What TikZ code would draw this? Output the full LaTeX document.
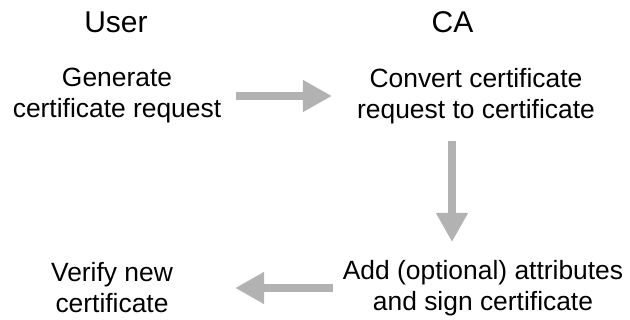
\documentclass[tikz,border=0pt]{standalone}
\usepackage{fontspec}
\setmainfont{Liberation Sans}
\usetikzlibrary{arrows.meta}

\begin{document}
\begin{tikzpicture}[x=1pt, y=-1pt,
	title/.style={font=\fontsize{30}{36}\selectfont, anchor=base},
	stage/.style={font=\fontsize{26.4}{31}\selectfont, align=center, inner sep=0pt},
	flow/.style={draw=gray!60, line width=8pt, -{Triangle[width=30pt, length=29pt]}}]
		\useasboundingbox (0,0) rectangle (630,320);
		% column heads
		\node[title] (user) at (116,33) {User};
		\node[title] (ca) at (452.5,33) {CA};
		% steps
		\node[stage] (gen) at (117,96) {Generate\\certificate request};
		\node[stage] (conv) at (476,96) {Convert certificate\\request to certificate};
		\node[stage] (add) at (483,288) {Add (optional) attributes\\and sign certificate};
		\node[stage] (ver) at (112,288) {Verify new\\certificate};
		% arrows between the steps
		\draw[flow, shorten <=15pt, shorten >=25pt] (gen.east) -- (conv.west);
		\coordinate (down) at (452,0);
		\draw[flow, shorten <=17pt, shorten >=18pt] (conv.south -| down) -- (add.north -| down);
		\draw[flow, shorten <=10pt, shorten >=62pt] (add.west) -- (ver.east);
	\end{tikzpicture}
\end{document}
